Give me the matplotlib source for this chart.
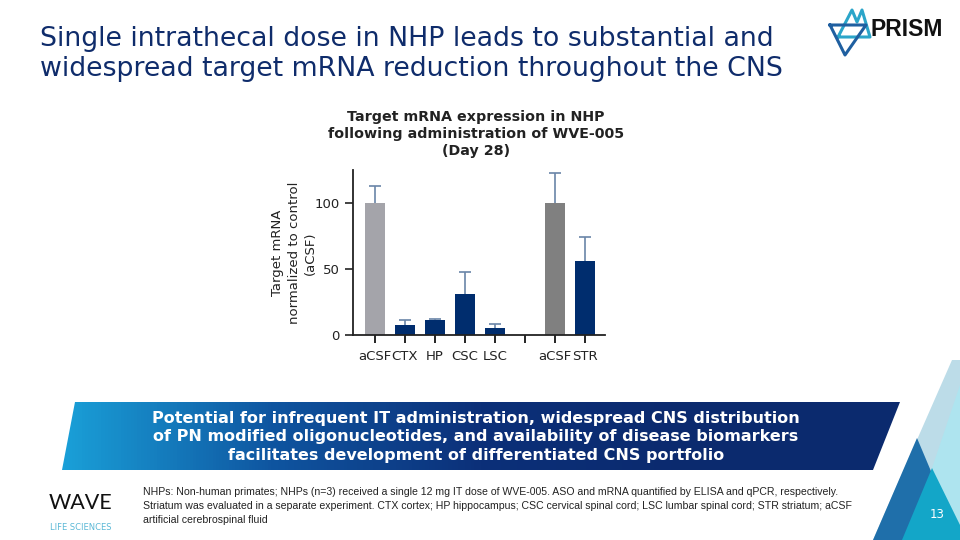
import numpy as np
import matplotlib.pyplot as plt
from matplotlib.patches import Polygon
from matplotlib.colors import LinearSegmentedColormap

# data
categorias = ['aCSF', 'CTX', 'HP', 'CSC', 'LSC', '', 'aCSF', 'STR']
posiciones = [0, 1, 2, 3, 4, 6, 7]
valores = [100, 7.2, 11.0, 31.0, 5.6, 100, 55.8]
errores = [13.0, 4.2, 1.4, 17.0, 3.0, 22.7, 18.7]
colores = ['#A4A4AA', '#002D6E', '#002D6E', '#002D6E', '#002D6E', '#808080', '#002D6E']

titulo = 'Single intrathecal dose in NHP leads to substantial and\nwidespread target mRNA reduction throughout the CNS'
titulo_grafico = 'Target mRNA expression in NHP\nfollowing administration of WVE-005\n(Day 28)'
ylabel = 'Target mRNA\nnormalized to control\n(aCSF)'
banner = ('Potential for infrequent IT administration, widespread CNS distribution\n'
          'of PN modified oligonucleotides, and availability of disease biomarkers\n'
          'facilitates development of differentiated CNS portfolio')
nota = ('NHPs: Non-human primates; NHPs (n=3) received a single 12 mg IT dose of WVE-005. ASO and mRNA quantified by ELISA and qPCR, respectively.\n'
        'Striatum was evaluated in a separate experiment. CTX cortex; HP hippocampus; CSC cervical spinal cord; LSC lumbar spinal cord; STR striatum; aCSF\n'
        'artificial cerebrospinal fluid')

W, H = 960, 540
fig = plt.figure(figsize=(9.6, 5.4), dpi=100)

# fondo en coordenadas de pixel
bg = fig.add_axes([0, 0, 1, 1], zorder=0)
bg.axis('off')

azul_titulo = '#0F2C6B'
bg.text(40, 54, titulo, fontsize=19.3, color=azul_titulo, va='center', ha='left', linespacing=1.2)

# banner con degradado
poly = Polygon([(75, 402), (900, 402), (873, 470), (62, 470)], closed=True, facecolor='none', edgecolor='none')
bg.add_patch(poly)
grad = np.linspace(0, 1, 256).reshape(1, -1)
cmap = LinearSegmentedColormap.from_list('b', ['#1AA0D8', '#0F55A0', '#0C3079', '#0B2A6E', '#0B2A6E'])
im = bg.imshow(grad, cmap=cmap, extent=[62, 900, 470, 402], aspect='auto', zorder=1)
im.set_clip_path(poly)
bg.text(476, 437, banner, fontsize=11.5, fontweight='bold', color='white', ha='center', va='center',
        linespacing=1.3, zorder=2)

# triangulos decorativos a la derecha
bg.add_patch(Polygon([(952, 360), (960, 360), (960, 540), (873, 540)], closed=True,
                     facecolor='#BCDCE8', edgecolor='none', zorder=1))
bg.add_patch(Polygon([(960, 385), (960, 540), (925, 540), (932, 468)], closed=True,
                     facecolor='#AEE4EF', edgecolor='none', zorder=1))
bg.add_patch(Polygon([(917, 438), (873, 540), (960, 540)], closed=True,
                     facecolor='#1F6FAA', edgecolor='none', zorder=2))
bg.add_patch(Polygon([(932, 468), (902, 540), (960, 540), (960, 525)], closed=True,
                     facecolor='#13A6C8', edgecolor='none', zorder=2))
bg.text(937, 514, '13', fontsize=8.5, color='white', ha='center', va='center', zorder=3)

# logo WAVE
bg.text(49, 503, 'WAVE', fontsize=15.5, color='#111111', ha='left', va='center', family='Lato')
bg.text(50, 527, 'LIFE SCIENCES', fontsize=6, color='#5BB8D6', ha='left', va='center')
bg.text(143, 506, nota, fontsize=7.6, color='#222222', ha='left', va='center', linespacing=1.45,
        family='Liberation Sans')

# logo PRISM (simplificado)
bg.plot([838, 852, 857, 862, 870, 838], [37, 10, 22, 10, 37, 37], color='#2BA5C9', lw=2.2, zorder=2)
bg.plot([830, 866, 845, 830], [25, 25, 55, 25], color='#1F5FA0', lw=2.2, zorder=2)
bg.text(870, 30, 'PRISM', fontsize=16.5, fontweight='bold', color='#111111', ha='left', va='center',
        family='Liberation Sans')

bg.set_xlim(0, W)
bg.set_ylim(H, 0)

# grafico
ax = fig.add_axes([353 / W, (H - 335) / H, (605 - 353) / W, (335 - 170) / H], zorder=3)
ax.patch.set_alpha(0)
ax.bar(posiciones, valores, width=0.66, color=colores, zorder=2)
ax.errorbar(posiciones, valores, yerr=errores, fmt='none',
            ecolor='#6A85A8', elinewidth=1.2, capsize=4, capthick=1.2, zorder=1)
ax.set_xlim(-0.73, 7.67)
ax.set_ylim(0, 125)
ax.set_xticks(range(len(categorias)))
ax.set_xticklabels(categorias, fontsize=9.5, color='#222222')
ax.set_yticks([0, 50, 100])
ax.tick_params(axis='y', labelsize=9.5, colors='#222222', length=6, width=1.2)
ax.tick_params(axis='x', length=6, width=1.2, pad=5)
for s in ['top', 'right']:
    ax.spines[s].set_visible(False)
for s in ['left', 'bottom']:
    ax.spines[s].set_linewidth(1.3)
    ax.spines[s].set_color('#222222')

bg.text(294, 253, ylabel, fontsize=9.5, color='#222222', rotation=90, ha='center', va='center',
        linespacing=1.3, multialignment='center')
bg.text(476, 134, titulo_grafico, fontsize=10.3, fontweight='bold', color='#222222', ha='center', va='center',
        linespacing=1.3)

fig.savefig('out.png', dpi=100)
